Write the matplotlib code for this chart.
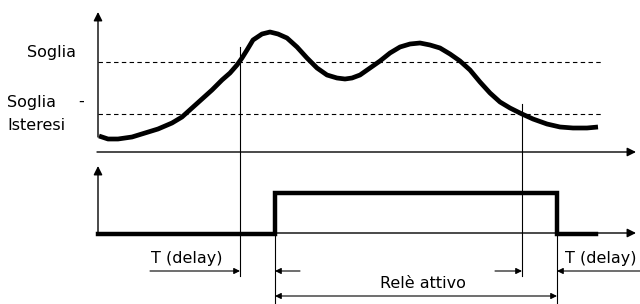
import matplotlib.pyplot as plt

# signal curve (x = time, y = level, pixel-like units, y grows downward)
curve_x = [99, 108, 118, 132, 145, 158, 172, 182, 192, 202, 212, 222, 230, 237,
           242, 247, 253, 262, 270, 278, 287, 297, 307, 317, 327, 337, 345, 352,
           360, 370, 380, 390, 400, 410, 420, 430, 440, 450, 460, 470, 480, 490,
           500, 510, 522, 533, 547, 560, 573, 587, 598]
curve_y = [136, 139, 139, 137, 133, 129, 123, 117, 108, 99, 90, 80, 73, 65,
           58, 50, 40, 34, 32, 34, 38, 47, 58, 68, 75, 78, 79, 78,
           75, 68, 61, 53, 47, 44, 43, 45, 48, 54, 61, 70, 82, 93,
           102, 108, 114, 119, 124, 127, 128, 128, 127]

# relay output
relay_x = [98, 275, 275, 557, 557, 596]
relay_y = [234, 234, 193, 193, 234, 234]

soglia = 62
soglia_ist = 114
t_on_cross = 240    # curve crosses Soglia
t_off_cross = 522   # curve crosses Soglia - Isteresi
t_on = 275          # relay on
t_off = 557         # relay off

fig = plt.figure(figsize=(6.4, 3.04), dpi=100)
ax = fig.add_axes([0, 0, 1, 1])
ax.set_xlim(0, 640)
ax.set_ylim(304, 0)
ax.axis("off")

axis_arrow = dict(arrowstyle="-|>", lw=1, color="black", mutation_scale=13,
                  shrinkA=0, shrinkB=0)
small_arrow = dict(arrowstyle="-|>", lw=0.8, color="black", mutation_scale=9,
                   shrinkA=0, shrinkB=0)
both_arrow = dict(arrowstyle="<|-|>", lw=0.8, color="black", mutation_scale=9,
                  shrinkA=0, shrinkB=0)

# upper diagram axes
ax.annotate("", xy=(98, 12), xytext=(98, 137), arrowprops=axis_arrow)
ax.annotate("", xy=(636, 152), xytext=(97, 152), arrowprops=axis_arrow)

# thresholds
ax.plot([98, 602], [soglia, soglia], color="black", lw=0.8, ls=(0, (4, 3)))
ax.plot([98, 602], [soglia_ist, soglia_ist], color="black", lw=0.8, ls=(0, (4, 3)))

ax.plot(curve_x, curve_y, color="black", lw=3.4, solid_capstyle="butt",
        solid_joinstyle="round")

# lower diagram axes
ax.annotate("", xy=(98, 166), xytext=(98, 234), arrowprops=axis_arrow)
ax.annotate("", xy=(636, 233), xytext=(97, 233), arrowprops=axis_arrow)
ax.plot(relay_x, relay_y, color="black", lw=3.2, solid_joinstyle="miter")

# vertical markers
ax.plot([t_on_cross, t_on_cross], [47, 276], color="black", lw=0.8)
ax.plot([t_off_cross, t_off_cross], [104, 276], color="black", lw=0.8)
ax.plot([t_on, t_on], [193, 304], color="black", lw=0.8)
ax.plot([t_off, t_off], [193, 304], color="black", lw=0.8)

# time arrows
ax.annotate("", xy=(t_on_cross, 271), xytext=(150, 271), arrowprops=small_arrow)
ax.annotate("", xy=(t_on, 271), xytext=(300, 271), arrowprops=small_arrow)
ax.annotate("", xy=(t_off_cross, 271), xytext=(495, 271), arrowprops=small_arrow)
ax.annotate("", xy=(t_off, 271), xytext=(640, 271), arrowprops=small_arrow)
ax.annotate("", xy=(t_off, 296), xytext=(t_on, 296), arrowprops=both_arrow)

fs = 11.5
ax.text(52, 53, "Soglia", fontsize=fs, ha="center", va="center")
ax.text(7, 103, "Soglia", fontsize=fs, ha="left", va="center")
ax.text(81, 101, "-", fontsize=fs, ha="center", va="center")
ax.text(7, 126, "Isteresi", fontsize=fs, ha="left", va="center")
ax.text(187, 258, "T (delay)", fontsize=fs, ha="center", va="center")
ax.text(601, 258, "T (delay)", fontsize=fs, ha="center", va="center")
ax.text(423, 284, "Relè attivo", fontsize=fs, ha="center", va="center")

fig.savefig("out.png", dpi=100)
